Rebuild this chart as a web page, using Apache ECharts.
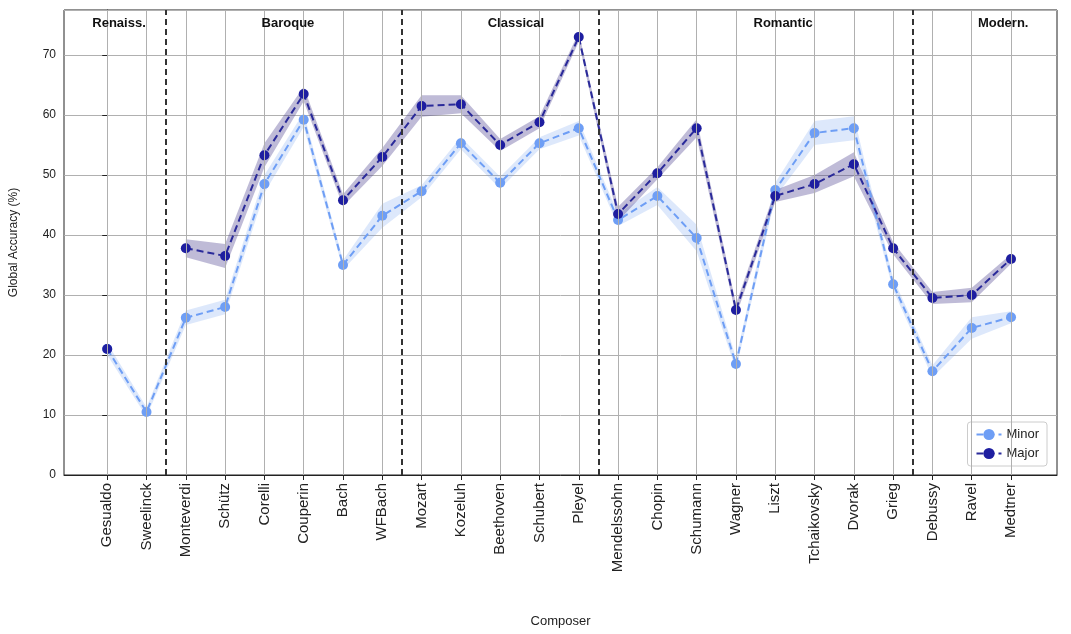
<!DOCTYPE html>
<html><head><meta charset="utf-8">
<script src="https://cdn.jsdelivr.net/npm/echarts@6/dist/echarts.min.js"></script>
<style>html,body{margin:0;background:#fff}#c{width:1071px;height:634px}</style></head>
<body><div id="c"></div>
<script>
const composers=["Gesualdo","Sweelinck","Monteverdi","Schütz","Corelli","Couperin","Bach","WFBach","Mozart","Kozeluh","Beethoven","Schubert","Pleyel","Mendelssohn","Chopin","Schumann","Wagner","Liszt","Tchaikovsky","Dvorak","Grieg","Debussy","Ravel","Medtner"];
const minorAcc=[21,10.5,26.2,28,48.5,59.2,35,43.2,47.3,55.3,48.7,55.3,57.8,42.5,46.5,39.5,18.5,47.5,57,57.8,31.8,17.3,24.5,26.3];
const minorErr=[1,0.8,1.2,1.2,1.5,1.2,0.8,2,1,1,1,1,1.2,1,1.5,2.2,1,1.2,2,2,1,1,1.8,1];
const majorAcc=[21,null,37.8,36.5,53.3,63.5,45.8,53,61.5,61.8,55,58.8,73,43.5,50.3,57.8,27.5,46.5,48.5,51.8,37.8,29.5,30,36];
const majorErr=[0.5,null,1.5,2,2,1.2,1,1.5,1.8,1.5,1,1,0.8,1.2,1,1.5,1,1,1.5,2,1,1,1.2,0.8];
const dividers=[1.5,7.5,12.5,20.5];
const eras=[["Renaiss.",0.3],["Baroque",4.6],["Classical",10.4],["Romantic",17.2],["Modern.",22.8]];

const idx=composers.map((c,i)=>i);
const pair=a=>a.map((v,i)=>[i,v]);
function band(acc,err,color){
  return {type:'custom',silent:true,z:1,data:[[0,0]],
    renderItem:function(params,api){
      const segs=[];let cur=[];
      acc.forEach((v,i)=>{ if(v==null){ if(cur.length) segs.push(cur); cur=[]; } else cur.push(i); });
      if(cur.length) segs.push(cur);
      const children=segs.filter(s=>s.length>1).map(s=>{
        const up=s.map(i=>api.coord([i,acc[i]+err[i]]));
        const lo=s.slice().reverse().map(i=>api.coord([i,acc[i]-err[i]]));
        return {type:'polygon',shape:{points:up.concat(lo)},style:{fill:color}};
      });
      return {type:'group',children:children};
    }};
}
const chart=echarts.init(document.getElementById('c'));
chart.setOption({
  animation:false,
  grid:{left:63,right:14,top:10,bottom:159,show:true,borderColor:'#222',borderWidth:1},
  xAxis:{type:'value',min:-1.1,max:24.17,name:'Composer',nameLocation:'middle',nameGap:140,
    nameTextStyle:{fontSize:13,color:'#222'},
    axisLine:{show:true,onZero:false,lineStyle:{color:'#222'}},splitLine:{show:false},
    axisTick:{customValues:idx,lineStyle:{color:'#222'}},
    axisLabel:{customValues:idx,rotate:90,fontSize:15,color:'#222',formatter:v=>composers[Math.round(v)]}},
  yAxis:{type:'value',min:0,max:77.5,interval:10,name:'Global Accuracy (%)',nameLocation:'middle',nameGap:44,
    nameTextStyle:{fontSize:12,color:'#222'},
    axisLine:{show:true,lineStyle:{color:'#222'}},axisTick:{show:true},
    axisLabel:{fontSize:12,color:'#222',showMaxLabel:false},splitLine:{lineStyle:{color:'#b0b0b0'}}},
  legend:{right:24,bottom:168,orient:'vertical',backgroundColor:'#fff',borderColor:'#ccc',borderWidth:1,borderRadius:3,padding:[6,8],itemGap:6,
    textStyle:{fontSize:13,color:'#222'},data:['Minor','Major']},
  series:[
    {type:'line',data:[],silent:true,z:0,
      markLine:{symbol:'none',silent:true,label:{show:false},lineStyle:{color:'#b0b0b0',type:'solid',width:1},data:idx.map(i=>({xAxis:i}))}},
    band(minorAcc,minorErr,'rgba(100,149,237,0.22)'),
    band(majorAcc,majorErr,'rgba(72,61,139,0.35)'),
    {name:'Minor',type:'line',data:pair(minorAcc),symbol:'circle',symbolSize:10,z:3,
      itemStyle:{color:'#6e9ef5'},lineStyle:{color:'#6e9ef5',type:[7,4],width:2}},
    {name:'Major',type:'line',data:pair(majorAcc),symbol:'circle',symbolSize:10,z:4,
      itemStyle:{color:'#1e1ea0'},lineStyle:{color:'#2a2a9a',type:[7,4],width:2},
      markLine:{symbol:'none',silent:true,label:{show:false},lineStyle:{color:'#333',type:[6,4],width:2},data:dividers.map(d=>({xAxis:d}))},
      markPoint:{symbol:'circle',symbolSize:0,label:{show:true,fontWeight:'bold',fontSize:13,color:'#111'},
        data:eras.map(e=>({coord:[e[1],75.2],value:e[0]}))}}
  ]
});
</script></body></html>
